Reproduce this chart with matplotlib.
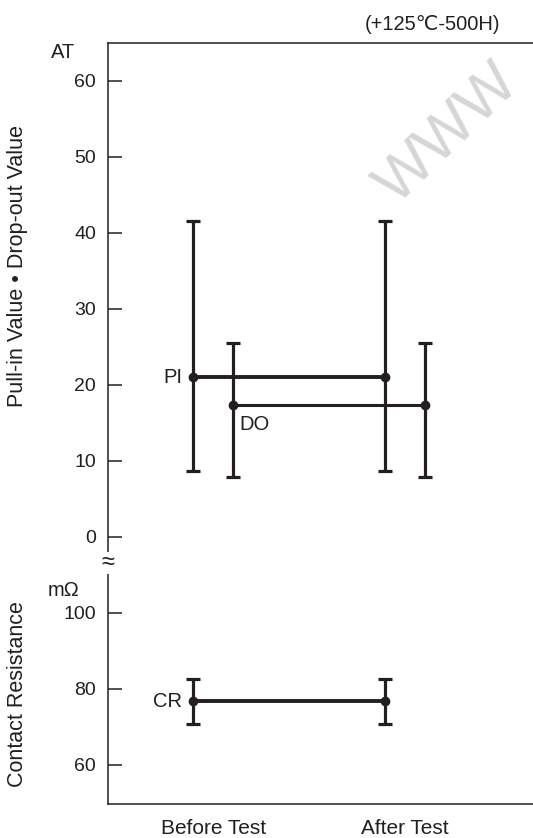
import numpy as np
import matplotlib.pyplot as plt

plt.rcParams['font.family'] = ['Liberation Sans', 'DejaVu Sans', 'Noto Sans CJK JP']

# ------------------ DONNEES ------------------------------------------------

categories = ['Before Test', 'After Test']

pi_mean = [21.0, 21.0]   # Pull-in (AT)
pi_low = [8.7, 8.7]
pi_high = [41.6, 41.6]

do_mean = [17.4, 17.4]   # Drop-out (AT)
do_low = [7.9, 7.9]
do_high = [25.5, 25.5]

cr_mean = [76.8, 76.8]   # Contact resistance (mOhm)
cr_low = [70.9, 70.9]
cr_high = [82.7, 82.7]

at_ticks = [0, 10, 20, 30, 40, 50, 60]
cr_ticks = [60, 80, 100]

# ------------------ FIGURE -------------------------------------------------

noir = '#231f20'
x = np.arange(len(categories))
dx = 0.21  # decalage DO

fig = plt.figure(figsize=(5.33, 8.38), dpi=100)
ax_h = fig.add_axes([0.2026, 0.3294, 0.7974, 0.6193])
ax_b = fig.add_axes([0.2026, 0.0406, 0.7974, 0.2888])

for ax in (ax_h, ax_b):
    ax.set_xlim(-0.443, 1.771)
    ax.spines['right'].set_visible(False)
    for s in ax.spines.values():
        s.set_color(noir)
        s.set_linewidth(1.1)
    ax.tick_params(axis='y', direction='in', length=10, width=1.1, color=noir,
                   labelsize=14, pad=8.5, labelcolor=noir)
    ax.tick_params(axis='x', length=0, labelsize=15, pad=11, labelcolor=noir)

ax_h.spines['bottom'].set_visible(False)
ax_b.spines['top'].set_visible(False)
ax_h.set_xticks([])
ax_h.set_ylim(-3.29, 65.0)
ax_h.set_yticks(at_ticks)
ax_b.set_ylim(49.74, 113.42)
ax_b.set_yticks(cr_ticks)
ax_b.set_xticks(x + dx / 2)
ax_b.set_xticklabels(categories)

eb = dict(fmt='o', color=noir, ecolor=noir, elinewidth=2.3, capsize=5,
          capthick=2.3, markersize=6)

# PI
ax_h.plot(x, pi_mean, color=noir, lw=2.8, zorder=3)
ax_h.errorbar(x, pi_mean, yerr=[np.subtract(pi_mean, pi_low), np.subtract(pi_high, pi_mean)], **eb)
# DO
ax_h.plot(x + dx, do_mean, color=noir, lw=2.2, zorder=3)
ax_h.errorbar(x + dx, do_mean, yerr=[np.subtract(do_mean, do_low), np.subtract(do_high, do_mean)], **eb)
# CR
ax_b.plot(x, cr_mean, color=noir, lw=2.8, zorder=3)
ax_b.errorbar(x, cr_mean, yerr=[np.subtract(cr_mean, cr_low), np.subtract(cr_high, cr_mean)], **eb)

ax_h.annotate('PI', (x[0], pi_mean[0]), xytext=(-8, 0), textcoords='offset points',
              ha='right', va='center', fontsize=14.5, color=noir)
ax_h.annotate('DO', (x[0] + dx, do_mean[0]), xytext=(4, -14), textcoords='offset points',
              ha='left', va='center', fontsize=14.5, color=noir)
ax_b.annotate('CR', (x[0], cr_mean[0]), xytext=(-8, 0), textcoords='offset points',
              ha='right', va='center', fontsize=14.5, color=noir)

# textes autour
fig.text(18 / 533, 1 - 266 / 838, 'Pull-in Value \u2022 Drop-out Value', rotation=90,
         ha='center', va='center', fontsize=15.5, color=noir)
fig.text(18 / 533, 1 - 694 / 838, 'Contact Resistance', rotation=90,
         ha='center', va='center', fontsize=15.5, color=noir)
fig.text(63 / 533, 1 - 53 / 838, 'AT', ha='center', va='center', fontsize=14.5, color=noir)
fig.text(64 / 533, 1 - 590 / 838, 'm\u03a9', ha='center', va='center', fontsize=14.5, color=noir)
fig.text(500 / 533, 1 - 24 / 838, '(+125\u2103-500H)', ha='right', va='center',
         fontsize=14.5, color=noir)
fig.text(108 / 533, 1 - 563 / 838, '\u2248', ha='center', va='center', fontsize=17,
         color=noir, bbox=dict(facecolor='white', edgecolor='none', pad=0))

# filigrane
fig.text(448 / 533, 1 - 135 / 838, 'WWW', rotation=44, ha='center', va='center',
         fontsize=44, color='#d6d6d6', zorder=0)

fig.savefig('out.png', dpi=100)
